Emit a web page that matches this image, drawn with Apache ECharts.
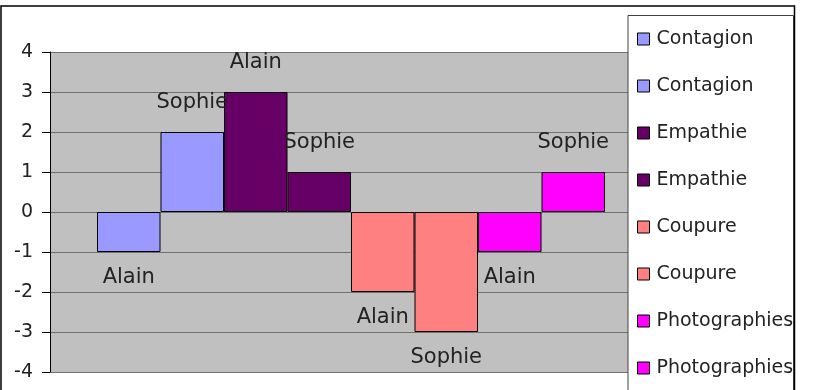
<!DOCTYPE html>
<html>
<head>
<meta charset="utf-8">
<script src="https://cdn.jsdelivr.net/npm/echarts@6/dist/echarts.min.js"></script>
<style>
html,body{margin:0;padding:0;background:#fff;}
#chart{width:814px;height:390px;}
</style>
</head>
<body>
<div id="chart"></div>
<script>
// Data
const categories = ['Groupe'];
const seriesNames = ['Contagion', 'Contagion', 'Empathie', 'Empathie', 'Coupure', 'Coupure', 'Photographies', 'Photographies'];
const persons = ['Alain', 'Sophie', 'Alain', 'Sophie', 'Alain', 'Sophie', 'Alain', 'Sophie'];
const values = [-1, 2, 3, 1, -2, -3, -1, 1];
const colors = ['#9999FF', '#9999FF', '#660066', '#660066', '#FF8080', '#FF8080', '#FF00FF', '#FF00FF'];
const yTicks = [-4, -3, -2, -1, 0, 1, 2, 3, 4];

const FONT = 'DejaVu Sans';

const series = values.map(function (v, i) {
  return {
    type: 'bar',
    name: seriesNames[i] + '|' + i,
    data: [v],
    barWidth: 63.5,
    barGap: '0%',
    itemStyle: { color: colors[i], borderColor: '#000', borderWidth: 1 },
    label: {
      show: true,
      position: v >= 0 ? 'top' : 'bottom',
      distance: v >= 0 ? 19 : 15,
      formatter: persons[i],
      fontFamily: FONT,
      fontSize: 21,
      color: '#222'
    },
    emphasis: { disabled: true }
  };
});

const chart = echarts.init(document.getElementById('chart'), null, { renderer: 'canvas' });
chart.setOption({
  animation: false,
  backgroundColor: '#fff',
  grid: {
    left: 50, right: 162, top: 52, bottom: 18,
    show: true, backgroundColor: '#C0C0C0', borderWidth: 0
  },
  xAxis: {
    type: 'category',
    data: categories,
    axisLine: { show: false },
    axisTick: { show: false },
    axisLabel: { show: false },
    splitLine: { show: false }
  },
  yAxis: {
    type: 'value',
    min: yTicks[0],
    max: yTicks[yTicks.length - 1],
    interval: 1,
    axisLine: { show: true, lineStyle: { color: '#000', width: 1 } },
    axisTick: { show: true, inside: false, length: 8, lineStyle: { color: '#000' } },
    axisLabel: { margin: 17, fontFamily: FONT, fontSize: 19, color: '#222' },
    splitLine: { show: true, lineStyle: { color: '#707070', width: 1 } }
  },
  legend: {
    orient: 'vertical',
    left: 637,
    top: 29.5,
    padding: 0,
    itemGap: 28,
    itemWidth: 12,
    itemHeight: 12,
    icon: 'rect',
    selectedMode: false,
    z: 10,
    itemStyle: { borderColor: '#000', borderWidth: 1 },
    formatter: function (name) { return name.split('|')[0]; },
    textStyle: { fontFamily: FONT, fontSize: 19, lineHeight: 19, color: '#222', padding: [0, 0, 0, 2] }
  },
  graphic: [
    {
      type: 'rect', z: 8,
      shape: { x: 628, y: 15.5, width: 165.5, height: 400 },
      style: { fill: '#fff', stroke: '#444', lineWidth: 1 }
    },
    {
      type: 'rect', z: 9,
      shape: { x: 1, y: 6, width: 793.5, height: 420 },
      style: { fill: 'none', stroke: '#000', lineWidth: 1.5 }
    }
  ],
  series: series
});
</script>
</body>
</html>
